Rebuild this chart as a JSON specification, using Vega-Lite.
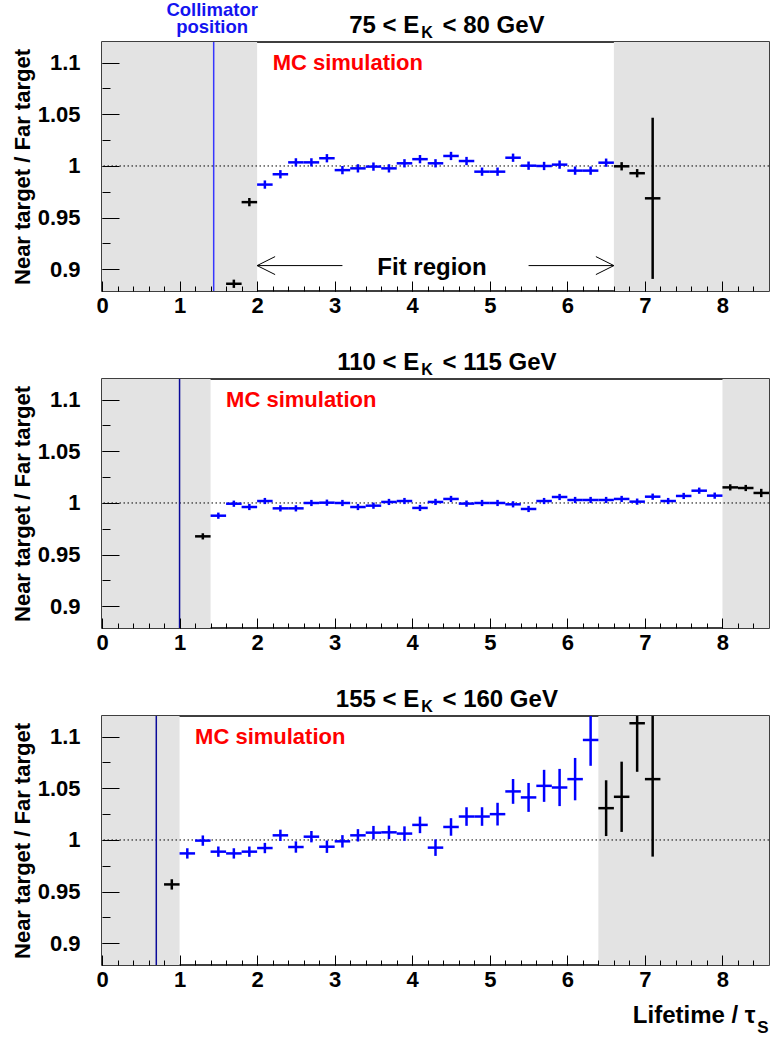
{
"$schema": "https://vega.github.io/schema/vega-lite/v6.json",
"padding": {"left": 10, "top": 0, "right": 0, "bottom": 0},
"autosize": {"type": "pad"},
"bounds": "flush",
"spacing": 88,
"config": {"font": "Liberation Sans", "view": {"stroke": "#000", "strokeWidth": 1.5}, "text": {"font": "Liberation Sans", "fontWeight": "bold"}},
"datasets": {
"p1": [
{"x":1.7,"x0":1.6,"x1":1.8,"y":0.886,"lo":0.882,"hi":0.890,"fit":"out"},
{"x":1.9,"x0":1.8,"x1":2.0,"y":0.965,"lo":0.961,"hi":0.969,"fit":"out"},
{"x":2.1,"x0":2.0,"x1":2.2,"y":0.982,"lo":0.978,"hi":0.986,"fit":"in"},
{"x":2.3,"x0":2.2,"x1":2.4,"y":0.992,"lo":0.988,"hi":0.996,"fit":"in"},
{"x":2.5,"x0":2.4,"x1":2.6,"y":1.0035,"lo":0.9995,"hi":1.0075,"fit":"in"},
{"x":2.7,"x0":2.6,"x1":2.8,"y":1.0035,"lo":0.9995,"hi":1.0075,"fit":"in"},
{"x":2.9,"x0":2.8,"x1":3.0,"y":1.0075,"lo":1.0035,"hi":1.0115,"fit":"in"},
{"x":3.1,"x0":3.0,"x1":3.2,"y":0.996,"lo":0.992,"hi":1.0,"fit":"in"},
{"x":3.3,"x0":3.2,"x1":3.4,"y":0.9977,"lo":0.9937,"hi":1.0017,"fit":"in"},
{"x":3.5,"x0":3.4,"x1":3.6,"y":0.9994,"lo":0.9954,"hi":1.0034,"fit":"in"},
{"x":3.7,"x0":3.6,"x1":3.8,"y":0.9977,"lo":0.9937,"hi":1.0017,"fit":"in"},
{"x":3.9,"x0":3.8,"x1":4.0,"y":1.0026,"lo":0.9986,"hi":1.0066,"fit":"in"},
{"x":4.1,"x0":4.0,"x1":4.2,"y":1.0066,"lo":1.0026,"hi":1.0106,"fit":"in"},
{"x":4.3,"x0":4.2,"x1":4.4,"y":1.0026,"lo":0.9986,"hi":1.0066,"fit":"in"},
{"x":4.5,"x0":4.4,"x1":4.6,"y":1.0097,"lo":1.0057,"hi":1.0137,"fit":"in"},
{"x":4.7,"x0":4.6,"x1":4.8,"y":1.0048,"lo":1.0008,"hi":1.0088,"fit":"in"},
{"x":4.9,"x0":4.8,"x1":5.0,"y":0.9945,"lo":0.9905,"hi":0.9985,"fit":"in"},
{"x":5.1,"x0":5.0,"x1":5.2,"y":0.9945,"lo":0.9905,"hi":0.9985,"fit":"in"},
{"x":5.3,"x0":5.2,"x1":5.4,"y":1.008,"lo":1.004,"hi":1.012,"fit":"in"},
{"x":5.5,"x0":5.4,"x1":5.6,"y":1.0003,"lo":0.9963,"hi":1.0043,"fit":"in"},
{"x":5.7,"x0":5.6,"x1":5.8,"y":1.0,"lo":0.996,"hi":1.004,"fit":"in"},
{"x":5.9,"x0":5.8,"x1":6.0,"y":1.0013,"lo":0.9973,"hi":1.0053,"fit":"in"},
{"x":6.1,"x0":6.0,"x1":6.2,"y":0.9955,"lo":0.9915,"hi":0.9995,"fit":"in"},
{"x":6.3,"x0":6.2,"x1":6.4,"y":0.9955,"lo":0.9915,"hi":0.9995,"fit":"in"},
{"x":6.5,"x0":6.4,"x1":6.6,"y":1.0032,"lo":0.9992,"hi":1.0072,"fit":"in"},
{"x":6.7,"x0":6.6,"x1":6.8,"y":0.9997,"lo":0.9957,"hi":1.0037,"fit":"out"},
{"x":6.9,"x0":6.8,"x1":7.0,"y":0.993,"lo":0.989,"hi":0.997,"fit":"out"},
{"x":7.1,"x0":7.0,"x1":7.2,"y":0.9687,"lo":0.8907,"hi":1.0467,"fit":"out"}
],
"p2": [
{"x":1.3,"x0":1.2,"x1":1.4,"y":0.9677,"lo":0.9647,"hi":0.9707,"fit":"out"},
{"x":1.5,"x0":1.4,"x1":1.6,"y":0.9877,"lo":0.9847,"hi":0.9907,"fit":"in"},
{"x":1.7,"x0":1.6,"x1":1.8,"y":0.9993,"lo":0.9963,"hi":1.0023,"fit":"in"},
{"x":1.9,"x0":1.8,"x1":2.0,"y":0.9961,"lo":0.9931,"hi":0.9991,"fit":"in"},
{"x":2.1,"x0":2.0,"x1":2.2,"y":1.0019,"lo":0.9989,"hi":1.0049,"fit":"in"},
{"x":2.3,"x0":2.2,"x1":2.4,"y":0.9948,"lo":0.9918,"hi":0.9978,"fit":"in"},
{"x":2.5,"x0":2.4,"x1":2.6,"y":0.9948,"lo":0.9918,"hi":0.9978,"fit":"in"},
{"x":2.7,"x0":2.6,"x1":2.8,"y":1.0,"lo":0.997,"hi":1.003,"fit":"in"},
{"x":2.9,"x0":2.8,"x1":3.0,"y":1.0003,"lo":0.9973,"hi":1.0033,"fit":"in"},
{"x":3.1,"x0":3.0,"x1":3.2,"y":1.0,"lo":0.997,"hi":1.003,"fit":"in"},
{"x":3.3,"x0":3.2,"x1":3.4,"y":0.9961,"lo":0.9931,"hi":0.9991,"fit":"in"},
{"x":3.5,"x0":3.4,"x1":3.6,"y":0.9974,"lo":0.9944,"hi":1.0004,"fit":"in"},
{"x":3.7,"x0":3.6,"x1":3.8,"y":1.001,"lo":0.998,"hi":1.004,"fit":"in"},
{"x":3.9,"x0":3.8,"x1":4.0,"y":1.0019,"lo":0.9989,"hi":1.0049,"fit":"in"},
{"x":4.1,"x0":4.0,"x1":4.2,"y":0.9952,"lo":0.9922,"hi":0.9982,"fit":"in"},
{"x":4.3,"x0":4.2,"x1":4.4,"y":1.001,"lo":0.998,"hi":1.004,"fit":"in"},
{"x":4.5,"x0":4.4,"x1":4.6,"y":1.0039,"lo":1.0009,"hi":1.0069,"fit":"in"},
{"x":4.7,"x0":4.6,"x1":4.8,"y":0.9994,"lo":0.9964,"hi":1.0024,"fit":"in"},
{"x":4.9,"x0":4.8,"x1":5.0,"y":1.0,"lo":0.997,"hi":1.003,"fit":"in"},
{"x":5.1,"x0":5.0,"x1":5.2,"y":1.0,"lo":0.997,"hi":1.003,"fit":"in"},
{"x":5.3,"x0":5.2,"x1":5.4,"y":0.9987,"lo":0.9957,"hi":1.0017,"fit":"in"},
{"x":5.5,"x0":5.4,"x1":5.6,"y":0.9942,"lo":0.9912,"hi":0.9972,"fit":"in"},
{"x":5.7,"x0":5.6,"x1":5.8,"y":1.0019,"lo":0.9989,"hi":1.0049,"fit":"in"},
{"x":5.9,"x0":5.8,"x1":6.0,"y":1.0058,"lo":1.0028,"hi":1.0088,"fit":"in"},
{"x":6.1,"x0":6.0,"x1":6.2,"y":1.0029,"lo":0.9999,"hi":1.0059,"fit":"in"},
{"x":6.3,"x0":6.2,"x1":6.4,"y":1.0029,"lo":0.9999,"hi":1.0059,"fit":"in"},
{"x":6.5,"x0":6.4,"x1":6.6,"y":1.0029,"lo":0.9999,"hi":1.0059,"fit":"in"},
{"x":6.7,"x0":6.6,"x1":6.8,"y":1.0039,"lo":1.0009,"hi":1.0069,"fit":"in"},
{"x":6.9,"x0":6.8,"x1":7.0,"y":1.0013,"lo":0.9983,"hi":1.0043,"fit":"in"},
{"x":7.1,"x0":7.0,"x1":7.2,"y":1.0061,"lo":1.0031,"hi":1.0091,"fit":"in"},
{"x":7.3,"x0":7.2,"x1":7.4,"y":1.0019,"lo":0.9989,"hi":1.0049,"fit":"in"},
{"x":7.5,"x0":7.4,"x1":7.6,"y":1.0068,"lo":1.0038,"hi":1.0098,"fit":"in"},
{"x":7.7,"x0":7.6,"x1":7.8,"y":1.0119,"lo":1.0089,"hi":1.0149,"fit":"in"},
{"x":7.9,"x0":7.8,"x1":8.0,"y":1.0071,"lo":1.0041,"hi":1.0101,"fit":"in"},
{"x":8.1,"x0":8.0,"x1":8.2,"y":1.0151,"lo":1.0121,"hi":1.0181,"fit":"out"},
{"x":8.3,"x0":8.2,"x1":8.4,"y":1.0145,"lo":1.0115,"hi":1.0175,"fit":"out"},
{"x":8.5,"x0":8.4,"x1":8.6,"y":1.0097,"lo":1.0057,"hi":1.0137,"fit":"out"}
],
"p3": [
{"x":0.9,"x0":0.8,"x1":1.0,"y":0.957,"lo":0.952,"hi":0.962,"fit":"out"},
{"x":1.1,"x0":1.0,"x1":1.2,"y":0.987,"lo":0.982,"hi":0.992,"fit":"in"},
{"x":1.3,"x0":1.2,"x1":1.4,"y":0.9994,"lo":0.9944,"hi":1.0044,"fit":"in"},
{"x":1.5,"x0":1.4,"x1":1.6,"y":0.9887,"lo":0.9837,"hi":0.9937,"fit":"in"},
{"x":1.7,"x0":1.6,"x1":1.8,"y":0.987,"lo":0.982,"hi":0.992,"fit":"in"},
{"x":1.9,"x0":1.8,"x1":2.0,"y":0.9887,"lo":0.9837,"hi":0.9937,"fit":"in"},
{"x":2.1,"x0":2.0,"x1":2.2,"y":0.9922,"lo":0.9872,"hi":0.9972,"fit":"in"},
{"x":2.3,"x0":2.2,"x1":2.4,"y":1.0045,"lo":0.999,"hi":1.01,"fit":"in"},
{"x":2.5,"x0":2.4,"x1":2.6,"y":0.9932,"lo":0.9877,"hi":0.9987,"fit":"in"},
{"x":2.7,"x0":2.6,"x1":2.8,"y":1.0032,"lo":0.9977,"hi":1.0087,"fit":"in"},
{"x":2.9,"x0":2.8,"x1":3.0,"y":0.9935,"lo":0.9875,"hi":0.9995,"fit":"in"},
{"x":3.1,"x0":3.0,"x1":3.2,"y":0.9987,"lo":0.9927,"hi":1.0047,"fit":"in"},
{"x":3.3,"x0":3.2,"x1":3.4,"y":1.0045,"lo":0.9985,"hi":1.0105,"fit":"in"},
{"x":3.5,"x0":3.4,"x1":3.6,"y":1.0071,"lo":1.0006,"hi":1.0136,"fit":"in"},
{"x":3.7,"x0":3.6,"x1":3.8,"y":1.0074,"lo":1.0009,"hi":1.0139,"fit":"in"},
{"x":3.9,"x0":3.8,"x1":4.0,"y":1.0062,"lo":0.9992,"hi":1.0132,"fit":"in"},
{"x":4.1,"x0":4.0,"x1":4.2,"y":1.0146,"lo":1.0066,"hi":1.0226,"fit":"in"},
{"x":4.3,"x0":4.2,"x1":4.4,"y":0.9926,"lo":0.9846,"hi":1.0006,"fit":"in"},
{"x":4.5,"x0":4.4,"x1":4.6,"y":1.0126,"lo":1.0041,"hi":1.0211,"fit":"in"},
{"x":4.7,"x0":4.6,"x1":4.8,"y":1.0227,"lo":1.0137,"hi":1.0317,"fit":"in"},
{"x":4.9,"x0":4.8,"x1":5.0,"y":1.0227,"lo":1.0137,"hi":1.0317,"fit":"in"},
{"x":5.1,"x0":5.0,"x1":5.2,"y":1.025,"lo":1.014,"hi":1.036,"fit":"in"},
{"x":5.3,"x0":5.2,"x1":5.4,"y":1.047,"lo":1.035,"hi":1.059,"fit":"in"},
{"x":5.5,"x0":5.4,"x1":5.6,"y":1.0412,"lo":1.0272,"hi":1.0552,"fit":"in"},
{"x":5.7,"x0":5.6,"x1":5.8,"y":1.0524,"lo":1.0369,"hi":1.0679,"fit":"in"},
{"x":5.9,"x0":5.8,"x1":6.0,"y":1.0508,"lo":1.0328,"hi":1.0688,"fit":"in"},
{"x":6.1,"x0":6.0,"x1":6.2,"y":1.0589,"lo":1.0384,"hi":1.0794,"fit":"in"},
{"x":6.3,"x0":6.2,"x1":6.4,"y":1.0968,"lo":1.0718,"hi":1.1218,"fit":"in"},
{"x":6.5,"x0":6.4,"x1":6.6,"y":1.0308,"lo":1.0038,"hi":1.0578,"fit":"out"},
{"x":6.7,"x0":6.6,"x1":6.8,"y":1.0418,"lo":1.0078,"hi":1.0758,"fit":"out"},
{"x":6.9,"x0":6.8,"x1":7.0,"y":1.113,"lo":1.066,"hi":1.16,"fit":"out"},
{"x":7.1,"x0":7.0,"x1":7.2,"y":1.0589,"lo":0.9839,"hi":1.1339,"fit":"out"}
]
},
"vconcat": [
{
"width": 667, "height": 249,
"data": {"values": [{}]},
"resolve": {"axis": {"x": "independent", "y": "independent"}},
"layer": [
{"data": {"values": [{"s0":0,"s1":2.0},{"s0":6.6,"s1":8.6}]},
 "mark": {"type": "rect", "color": "#e3e3e3"},
 "encoding": {
  "x": {"field": "s0", "type": "quantitative", "scale": {"domain": [0, 8.6], "nice": false, "zero": false},
   "axis": {"orient": "bottom", "zindex": 1, "offset": -10, "values": [0,1,2,3,4,5,6,7,8], "format": "d", "domain": false, "grid": false, "tickColor": "#000", "tickWidth": 1, "tickSize": 10, "labelFont": "Liberation Sans", "labelFontSize": 22, "labelFontWeight": "bold", "labelColor": "#000", "labelPadding": 4, "labelFlush": false, "labelOverlap": false, "title": null}},
  "x2": {"field": "s1"},
  "y": {"datum": 0.879, "type": "quantitative", "scale": {"domain": [0.879, 1.12], "nice": false, "zero": false},
   "axis": {"orient": "left", "zindex": 1, "offset": -17, "values": [0.9,0.95,1,1.05,1.1], "format": "~g", "domain": false, "grid": false, "tickColor": "#000", "tickWidth": 1, "tickSize": 17, "labelFont": "Liberation Sans", "labelFontSize": 22, "labelFontWeight": "bold", "labelColor": "#000", "labelPadding": 22, "labelFlush": false, "labelOverlap": false, "title": "Near target / Far target", "titleFont": "Liberation Sans", "titleFontSize": 22, "titleFontWeight": "bold", "titleColor": "#000", "titleAngle": -90, "titleAlign": "center", "titleBaseline": "alphabetic", "titleX": -90, "titleY": 124.5}},
  "y2": {"datum": 1.12}
 }},
{"mark": {"type": "point", "opacity": 0},
 "encoding": {
  "x": {"datum": 0, "type": "quantitative", "axis": {"orient": "bottom", "zindex": 1, "offset": -5, "values": [0,0.2,0.4,0.6,0.8,1,1.2,1.4,1.6,1.8,2,2.2,2.4,2.6,2.8,3,3.2,3.4,3.6,3.8,4,4.2,4.4,4.6,4.8,5,5.2,5.4,5.6,5.8,6,6.2,6.4,6.6,6.8,7,7.2,7.4,7.6,7.8,8,8.2,8.4], "domain": false, "grid": false, "labels": false, "tickColor": "#000", "tickWidth": 1, "tickSize": 5, "title": null}},
  "y": {"datum": 1, "type": "quantitative", "axis": {"orient": "left", "zindex": 1, "offset": -8, "values": [0.9,0.925,0.95,0.975,1,1.025,1.05,1.075,1.1], "domain": false, "grid": false, "labels": false, "tickColor": "#000", "tickWidth": 1, "tickSize": 8, "title": null}}
 }},
{"mark": {"type": "rule", "color": "#000", "strokeWidth": 1, "strokeDash": [1.5, 2.5]}, "encoding": {"y": {"datum": 1, "axis": null}}},
{"mark": {"type": "rule", "color": "#3636ff", "strokeWidth": 1.5}, "encoding": {"x": {"datum": 1.44, "axis": null}}},
{"data": {"name": "p1"}, "mark": {"type": "rule", "strokeWidth": 2.5, "clip": true},
 "encoding": {"x": {"field": "x0", "type": "quantitative", "axis": null}, "x2": {"field": "x1"}, "y": {"field": "y", "type": "quantitative", "axis": null},
  "color": {"field": "fit", "type": "nominal", "scale": {"domain": ["in", "out"], "range": ["#0000ff", "#000000"]}, "legend": null}}},
{"data": {"name": "p1"}, "mark": {"type": "rule", "strokeWidth": 2.5, "clip": true},
 "encoding": {"x": {"field": "x", "type": "quantitative", "axis": null}, "y": {"field": "lo", "type": "quantitative", "axis": null}, "y2": {"field": "hi"},
  "color": {"field": "fit", "type": "nominal", "legend": null}}},
{"mark": {"type": "text", "text": "MC simulation", "align": "left", "baseline": "alphabetic", "fontSize": 22, "color": "#ff0000"}, "encoding": {"x": {"datum": 2.2, "axis": null}, "y": {"datum": 1.093, "axis": null}}},
{"mark": {"type": "text", "text": "75 < E", "align": "right", "baseline": "alphabetic", "fontSize": 24, "color": "#000"}, "encoding": {"x": {"datum": 4.09, "axis": null}, "y": {"datum": 1.1285, "axis": null}}},
{"mark": {"type": "text", "text": "K", "align": "left", "baseline": "alphabetic", "fontSize": 16, "color": "#000"}, "encoding": {"x": {"datum": 4.115, "axis": null}, "y": {"datum": 1.1237, "axis": null}}},
{"mark": {"type": "text", "text": "< 80 GeV", "align": "left", "baseline": "alphabetic", "fontSize": 24, "color": "#000"}, "encoding": {"x": {"datum": 4.39, "axis": null}, "y": {"datum": 1.1285, "axis": null}}},
{"mark": {"type": "text", "text": ["Collimator", "position"], "align": "center", "baseline": "alphabetic", "fontSize": 18.5, "lineHeight": 16.5, "color": "#1414f0"}, "encoding": {"x": {"datum": 1.42, "axis": null}, "y": {"datum": 1.1447, "axis": null}}},
{"mark": {"type": "text", "text": "Fit region", "align": "left", "baseline": "alphabetic", "fontSize": 24, "color": "#000"}, "encoding": {"x": {"datum": 3.55, "axis": null}, "y": {"datum": 0.8946, "axis": null}}},
{"mark": {"type": "rule", "color": "#000", "strokeWidth": 1}, "encoding": {"x": {"datum": 2.0, "axis": null}, "x2": {"datum": 3.1}, "y": {"datum": 0.9036, "axis": null}}},
{"mark": {"type": "rule", "color": "#000", "strokeWidth": 1}, "encoding": {"x": {"datum": 5.5, "axis": null}, "x2": {"datum": 6.6}, "y": {"datum": 0.9036, "axis": null}}},
{"mark": {"type": "point", "shape": "M0,0L2,-1M0,0L2,1", "size": 324, "filled": false, "stroke": "#000", "strokeWidth": 1, "opacity": 1}, "encoding": {"x": {"datum": 2.0, "axis": null}, "y": {"datum": 0.9036, "axis": null}}},
{"mark": {"type": "point", "shape": "M0,0L-2,-1M0,0L-2,1", "size": 324, "filled": false, "stroke": "#000", "strokeWidth": 1, "opacity": 1}, "encoding": {"x": {"datum": 6.6, "axis": null}, "y": {"datum": 0.9036, "axis": null}}}
]
},
{
"width": 667, "height": 249,
"data": {"values": [{}]},
"resolve": {"axis": {"x": "independent", "y": "independent"}},
"layer": [
{"data": {"values": [{"s0":0,"s1":1.4},{"s0":8.0,"s1":8.6}]},
 "mark": {"type": "rect", "color": "#e3e3e3"},
 "encoding": {
  "x": {"field": "s0", "type": "quantitative", "scale": {"domain": [0, 8.6], "nice": false, "zero": false},
   "axis": {"orient": "bottom", "zindex": 1, "offset": -10, "values": [0,1,2,3,4,5,6,7,8], "format": "d", "domain": false, "grid": false, "tickColor": "#000", "tickWidth": 1, "tickSize": 10, "labelFont": "Liberation Sans", "labelFontSize": 22, "labelFontWeight": "bold", "labelColor": "#000", "labelPadding": 4, "labelFlush": false, "labelOverlap": false, "title": null}},
  "x2": {"field": "s1"},
  "y": {"datum": 0.879, "type": "quantitative", "scale": {"domain": [0.879, 1.12], "nice": false, "zero": false},
   "axis": {"orient": "left", "zindex": 1, "offset": -17, "values": [0.9,0.95,1,1.05,1.1], "format": "~g", "domain": false, "grid": false, "tickColor": "#000", "tickWidth": 1, "tickSize": 17, "labelFont": "Liberation Sans", "labelFontSize": 22, "labelFontWeight": "bold", "labelColor": "#000", "labelPadding": 22, "labelFlush": false, "labelOverlap": false, "title": "Near target / Far target", "titleFont": "Liberation Sans", "titleFontSize": 22, "titleFontWeight": "bold", "titleColor": "#000", "titleAngle": -90, "titleAlign": "center", "titleBaseline": "alphabetic", "titleX": -90, "titleY": 124.5}},
  "y2": {"datum": 1.12}
 }},
{"mark": {"type": "point", "opacity": 0},
 "encoding": {
  "x": {"datum": 0, "type": "quantitative", "axis": {"orient": "bottom", "zindex": 1, "offset": -5, "values": [0,0.2,0.4,0.6,0.8,1,1.2,1.4,1.6,1.8,2,2.2,2.4,2.6,2.8,3,3.2,3.4,3.6,3.8,4,4.2,4.4,4.6,4.8,5,5.2,5.4,5.6,5.8,6,6.2,6.4,6.6,6.8,7,7.2,7.4,7.6,7.8,8,8.2,8.4], "domain": false, "grid": false, "labels": false, "tickColor": "#000", "tickWidth": 1, "tickSize": 5, "title": null}},
  "y": {"datum": 1, "type": "quantitative", "axis": {"orient": "left", "zindex": 1, "offset": -8, "values": [0.9,0.925,0.95,0.975,1,1.025,1.05,1.075,1.1], "domain": false, "grid": false, "labels": false, "tickColor": "#000", "tickWidth": 1, "tickSize": 8, "title": null}}
 }},
{"mark": {"type": "rule", "color": "#000", "strokeWidth": 1, "strokeDash": [1.5, 2.5]}, "encoding": {"y": {"datum": 1, "axis": null}}},
{"mark": {"type": "rule", "color": "#0a0a9a", "strokeWidth": 1.5}, "encoding": {"x": {"datum": 1.0, "axis": null}}},
{"data": {"name": "p2"}, "mark": {"type": "rule", "strokeWidth": 2.5, "clip": true},
 "encoding": {"x": {"field": "x0", "type": "quantitative", "axis": null}, "x2": {"field": "x1"}, "y": {"field": "y", "type": "quantitative", "axis": null},
  "color": {"field": "fit", "type": "nominal", "legend": null}}},
{"data": {"name": "p2"}, "mark": {"type": "rule", "strokeWidth": 2.5, "clip": true},
 "encoding": {"x": {"field": "x", "type": "quantitative", "axis": null}, "y": {"field": "lo", "type": "quantitative", "axis": null}, "y2": {"field": "hi"},
  "color": {"field": "fit", "type": "nominal", "legend": null}}},
{"mark": {"type": "text", "text": "MC simulation", "align": "left", "baseline": "alphabetic", "fontSize": 22, "color": "#ff0000"}, "encoding": {"x": {"datum": 1.6, "axis": null}, "y": {"datum": 1.093, "axis": null}}},
{"mark": {"type": "text", "text": "110 < E", "align": "right", "baseline": "alphabetic", "fontSize": 24, "color": "#000"}, "encoding": {"x": {"datum": 4.09, "axis": null}, "y": {"datum": 1.1285, "axis": null}}},
{"mark": {"type": "text", "text": "K", "align": "left", "baseline": "alphabetic", "fontSize": 16, "color": "#000"}, "encoding": {"x": {"datum": 4.115, "axis": null}, "y": {"datum": 1.1237, "axis": null}}},
{"mark": {"type": "text", "text": "< 115 GeV", "align": "left", "baseline": "alphabetic", "fontSize": 24, "color": "#000"}, "encoding": {"x": {"datum": 4.39, "axis": null}, "y": {"datum": 1.1285, "axis": null}}}
]
},
{
"width": 667, "height": 249,
"data": {"values": [{}]},
"resolve": {"axis": {"x": "independent", "y": "independent"}},
"layer": [
{"data": {"values": [{"s0":0,"s1":1.0},{"s0":6.4,"s1":8.6}]},
 "mark": {"type": "rect", "color": "#e3e3e3"},
 "encoding": {
  "x": {"field": "s0", "type": "quantitative", "scale": {"domain": [0, 8.6], "nice": false, "zero": false},
   "axis": {"orient": "bottom", "zindex": 1, "offset": -10, "values": [0,1,2,3,4,5,6,7,8], "format": "d", "domain": false, "grid": false, "tickColor": "#000", "tickWidth": 1, "tickSize": 10, "labelFont": "Liberation Sans", "labelFontSize": 22, "labelFontWeight": "bold", "labelColor": "#000", "labelPadding": 4, "labelFlush": false, "labelOverlap": false, "title": null}},
  "x2": {"field": "s1"},
  "y": {"datum": 0.879, "type": "quantitative", "scale": {"domain": [0.879, 1.12], "nice": false, "zero": false},
   "axis": {"orient": "left", "zindex": 1, "offset": -17, "values": [0.9,0.95,1,1.05,1.1], "format": "~g", "domain": false, "grid": false, "tickColor": "#000", "tickWidth": 1, "tickSize": 17, "labelFont": "Liberation Sans", "labelFontSize": 22, "labelFontWeight": "bold", "labelColor": "#000", "labelPadding": 22, "labelFlush": false, "labelOverlap": false, "title": "Near target / Far target", "titleFont": "Liberation Sans", "titleFontSize": 22, "titleFontWeight": "bold", "titleColor": "#000", "titleAngle": -90, "titleAlign": "center", "titleBaseline": "alphabetic", "titleX": -90, "titleY": 124.5}},
  "y2": {"datum": 1.12}
 }},
{"mark": {"type": "point", "opacity": 0},
 "encoding": {
  "x": {"datum": 0, "type": "quantitative", "axis": {"orient": "bottom", "zindex": 1, "offset": -5, "values": [0,0.2,0.4,0.6,0.8,1,1.2,1.4,1.6,1.8,2,2.2,2.4,2.6,2.8,3,3.2,3.4,3.6,3.8,4,4.2,4.4,4.6,4.8,5,5.2,5.4,5.6,5.8,6,6.2,6.4,6.6,6.8,7,7.2,7.4,7.6,7.8,8,8.2,8.4], "domain": false, "grid": false, "labels": false, "tickColor": "#000", "tickWidth": 1, "tickSize": 5, "title": null}},
  "y": {"datum": 1, "type": "quantitative", "axis": {"orient": "left", "zindex": 1, "offset": -8, "values": [0.9,0.925,0.95,0.975,1,1.025,1.05,1.075,1.1], "domain": false, "grid": false, "labels": false, "tickColor": "#000", "tickWidth": 1, "tickSize": 8, "title": null}}
 }},
{"mark": {"type": "rule", "color": "#000", "strokeWidth": 1, "strokeDash": [1.5, 2.5]}, "encoding": {"y": {"datum": 1, "axis": null}}},
{"mark": {"type": "rule", "color": "#0a0a9a", "strokeWidth": 1.5}, "encoding": {"x": {"datum": 0.7, "axis": null}}},
{"data": {"name": "p3"}, "mark": {"type": "rule", "strokeWidth": 2.5, "clip": true},
 "encoding": {"x": {"field": "x0", "type": "quantitative", "axis": null}, "x2": {"field": "x1"}, "y": {"field": "y", "type": "quantitative", "axis": null},
  "color": {"field": "fit", "type": "nominal", "legend": null}}},
{"data": {"name": "p3"}, "mark": {"type": "rule", "strokeWidth": 2.5, "clip": true},
 "encoding": {"x": {"field": "x", "type": "quantitative", "axis": null}, "y": {"field": "lo", "type": "quantitative", "axis": null}, "y2": {"field": "hi"},
  "color": {"field": "fit", "type": "nominal", "legend": null}}},
{"mark": {"type": "text", "text": "MC simulation", "align": "left", "baseline": "alphabetic", "fontSize": 22, "color": "#ff0000"}, "encoding": {"x": {"datum": 1.2, "axis": null}, "y": {"datum": 1.093, "axis": null}}},
{"mark": {"type": "text", "text": "155 < E", "align": "right", "baseline": "alphabetic", "fontSize": 24, "color": "#000"}, "encoding": {"x": {"datum": 4.09, "axis": null}, "y": {"datum": 1.1285, "axis": null}}},
{"mark": {"type": "text", "text": "K", "align": "left", "baseline": "alphabetic", "fontSize": 16, "color": "#000"}, "encoding": {"x": {"datum": 4.115, "axis": null}, "y": {"datum": 1.1237, "axis": null}}},
{"mark": {"type": "text", "text": "< 160 GeV", "align": "left", "baseline": "alphabetic", "fontSize": 24, "color": "#000"}, "encoding": {"x": {"datum": 4.39, "axis": null}, "y": {"datum": 1.1285, "axis": null}}},
{"mark": {"type": "text", "text": "Lifetime / τ", "align": "right", "baseline": "alphabetic", "fontSize": 24, "color": "#000"}, "encoding": {"x": {"datum": 8.427, "axis": null}, "y": {"datum": 0.8227, "axis": null}}},
{"mark": {"type": "text", "text": "S", "align": "left", "baseline": "alphabetic", "fontSize": 17, "color": "#000"}, "encoding": {"x": {"datum": 8.449, "axis": null}, "y": {"datum": 0.8133, "axis": null}}}
]
}
]
}
